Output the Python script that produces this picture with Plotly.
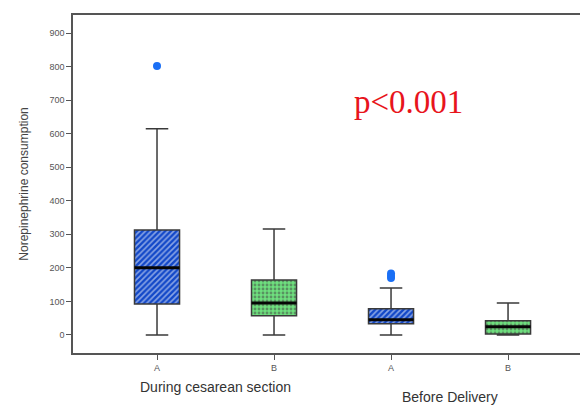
import plotly.graph_objects as go

# ---- data ----
tick_labels = ["A", "B", "A", "B"]
positions = [0, 1, 2, 3]
lower_fence = [0, 0, 0, 0]
q1_vals = [92, 57, 33, 3]
median_vals = [200, 95, 45, 24]
q3_vals = [313, 164, 78, 42]
upper_fence = [615, 316, 140, 95]
outlier_x = [0, 2, 2, 2]
outlier_y = [802, 183, 176, 170]
group_label_pos = [0.5, 2.5]
group_labels = ["During cesarean section", "Before Delivery"]
y_ticks = [0, 100, 200, 300, 400, 500, 600, 700, 800, 900]

fill_colors = ["#1248c8", "#6ee07e", "#1248c8", "#6ee07e"]
pattern_colors = ["#0b2f8a", "#b4f4bc", "#0b2f8a", "#b4f4bc"]
pattern_shapes = ["/", ".", "/", "."]
box_w = 0.385

fig = go.Figure()

# pattern-filled box bodies
fig.add_trace(go.Bar(
    x=positions,
    y=[q3 - q1 for q1, q3 in zip(q1_vals, q3_vals)],
    base=q1_vals,
    width=box_w,
    marker=dict(
        color=fill_colors,
        line=dict(width=0),
        pattern=dict(shape=pattern_shapes, fgcolor=pattern_colors, bgcolor=fill_colors,
                     size=4, solidity=0.4),
    ),
    showlegend=False, hoverinfo="skip",
))

# box outlines and whiskers
for i in range(len(positions)):
    fig.add_trace(go.Box(
        x=[positions[i]],
        q1=[q1_vals[i]], median=[median_vals[i]], q3=[q3_vals[i]],
        lowerfence=[lower_fence[i]], upperfence=[upper_fence[i]],
        width=box_w, whiskerwidth=0.5,
        fillcolor="rgba(0,0,0,0)",
        line=dict(color="#3a3a3a", width=1.5),
        boxpoints=False, showlegend=False,
    ))

# thick median lines
for i in range(len(positions)):
    fig.add_trace(go.Scatter(
        x=[positions[i] - box_w / 2, positions[i] + box_w / 2],
        y=[median_vals[i], median_vals[i]],
        mode="lines", line=dict(color="#050505", width=3),
        showlegend=False, hoverinfo="skip",
    ))

# outliers
fig.add_trace(go.Scatter(
    x=outlier_x, y=outlier_y, mode="markers",
    marker=dict(color="#1a6ff5", size=8),
    showlegend=False,
))

for xp, lab, yp in zip(group_label_pos, group_labels, [-0.13, -0.16]):
    fig.add_annotation(x=xp, y=yp, xref="x", yref="paper", text=lab, showarrow=False,
                       font=dict(family="Liberation Sans, Arial", size=14, color="#333"))

fig.add_annotation(x=2.15, y=694, xref="x", yref="y", text="p<0.001", showarrow=False,
                   font=dict(family="Liberation Serif, Times New Roman", size=33, color="#e8141c"))

fig.update_layout(
    width=580, height=405,
    margin=dict(l=73, r=0, t=15, b=52),
    paper_bgcolor="white", plot_bgcolor="white",
    barmode="overlay",
    font=dict(family="Liberation Sans, Arial", color="#444"),
    xaxis=dict(
        range=[-0.718, 3.615], tickvals=positions, ticktext=tick_labels,
        showline=True, linecolor="#555", linewidth=1.5, mirror=True,
        ticks="outside", ticklen=5, tickcolor="#555", tickfont=dict(size=9, color="#555"),
        showgrid=False, zeroline=False, automargin=False,
    ),
    yaxis=dict(
        range=[-54, 954], tickvals=y_ticks,
        showline=True, linecolor="#555", linewidth=1.5, mirror=False,
        ticks="outside", ticklen=5, tickcolor="#555", tickfont=dict(size=9, color="#555"),
        showgrid=False, zeroline=False, automargin=False,
        title=dict(text="Norepinephrine consumption", font=dict(size=12, color="#444"), standoff=18),
    ),
)

fig.write_html("out.html", config={"displayModeBar": False},
               post_script="document.body.style.margin='0';document.body.style.overflow='hidden';")
